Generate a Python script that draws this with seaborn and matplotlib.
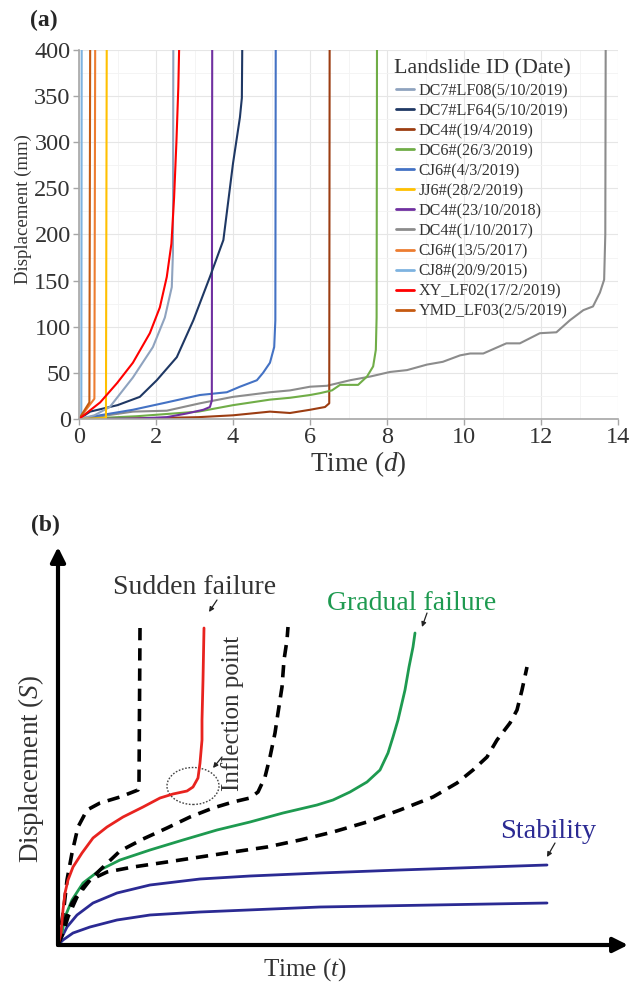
import numpy as np
import pandas as pd
import matplotlib
matplotlib.use("Agg")
import matplotlib.pyplot as plt
import seaborn as sns
from matplotlib.patches import Ellipse
from matplotlib.lines import Line2D

sns.set_theme(style="white")
plt.rcParams['font.family'] = ['Liberation Serif', 'DejaVu Serif']
plt.rcParams['mathtext.fontset'] = 'custom'
plt.rcParams['mathtext.it'] = 'Liberation Serif:italic'
plt.rcParams['mathtext.rm'] = 'Liberation Serif'

# ---------------- Panel (a) data ----------------
landslide_ids = ["DC7#LF08(5/10/2019)", "DC7#LF64(5/10/2019)", "DC4#(19/4/2019)",
                 "DC6#(26/3/2019)", "CJ6#(4/3/2019)", "JJ6#(28/2/2019)",
                 "DC4#(23/10/2018)", "DC4#(1/10/2017)", "CJ6#(13/5/2017)",
                 "CJ8#(20/9/2015)", "XY_LF02(17/2/2019)", "YMD_LF03(2/5/2019)"]
line_colors = ["#8FA3BF", "#1F3864", "#9C3D12", "#70AD47", "#4472C4", "#FFC000",
               "#7030A0", "#8C8C8C", "#ED7D31", "#7EB3E0", "#FF0000", "#C55A11"]

dc7lf08_t = [0, 0.4, 0.8, 1.4, 1.92, 2.23, 2.41, 2.44, 2.45]
dc7lf08_s = [0, 4, 13, 45, 78, 110, 143, 180, 400]
dc7lf64_t = [0, 0.29, 1.0, 1.58, 2.02, 2.54, 2.97, 3.4, 3.75, 4.0, 4.18, 4.23, 4.24]
dc7lf64_s = [0, 8, 15, 24, 42, 67, 107, 154, 194, 277, 327, 348, 400]
dc4_2019_t = [0, 2.0, 3.1, 4.0, 4.96, 5.48, 6.0, 6.39, 6.5, 6.51]
dc4_2019_s = [0, 1, 2, 4, 8, 6.5, 10, 13, 17, 400]
dc6_t = [0, 1.5, 3.1, 4.0, 4.96, 5.48, 6.0, 6.26, 6.57, 6.78, 7.25, 7.48, 7.64, 7.71, 7.73, 7.74]
dc6_s = [0, 3, 8, 15, 21, 23, 26, 28, 31, 37, 37, 46, 57, 75, 110, 400]
cj6_2019_t = [0, 0.4, 1.4, 2.28, 3.14, 3.84, 4.18, 4.62, 4.78, 4.96, 5.07, 5.1, 5.11]
cj6_2019_s = [0, 3, 10, 18, 26, 29, 35, 42, 50, 61, 78, 107, 400]
jj6_t = [0, 0.7, 0.72]
jj6_s = [0, 1, 400]
dc4_2018_t = [0, 1.5, 2.28, 2.8, 3.23, 3.4, 3.45, 3.46]
dc4_2018_s = [0, 0.5, 2, 6, 10, 13, 20, 400]
dc4_2017_t = [0, 0.4, 1.4, 2.28, 3.14, 4.0, 4.96, 5.48, 6.0, 6.44, 7.04, 7.56, 8.08, 8.52,
              9.04, 9.45, 9.9, 10.16, 10.5, 11.1, 11.45, 11.97, 12.4, 12.75, 13.1, 13.35,
              13.53, 13.64, 13.67, 13.68]
dc4_2017_s = [0, 2, 8, 9, 17, 24, 29, 31, 35, 36, 42, 46, 51, 53, 59, 62, 69, 71, 71, 82,
              82, 93, 94, 107, 118, 122, 137, 151, 200, 400]
cj6_2017_t = [0, 0.4, 0.42]
cj6_2017_s = [0, 22, 400]
cj8_t = [0, 0.06, 0.07]
cj8_s = [0, 1, 400]
xy_t = [0, 0.55, 0.99, 1.4, 1.84, 2.1, 2.28, 2.4, 2.47, 2.53, 2.58, 2.6]
xy_s = [0, 18, 39, 61, 93, 121, 154, 190, 240, 300, 360, 400]
ymd_t = [0, 0.27, 0.29]
ymd_s = [0, 18, 400]

series_t = [dc7lf08_t, dc7lf64_t, dc4_2019_t, dc6_t, cj6_2019_t, jj6_t, dc4_2018_t,
            dc4_2017_t, cj6_2017_t, cj8_t, xy_t, ymd_t]
series_s = [dc7lf08_s, dc7lf64_s, dc4_2019_s, dc6_s, cj6_2019_s, jj6_s, dc4_2018_s,
            dc4_2017_s, cj6_2017_s, cj8_s, xy_s, ymd_s]

x_ticks_a = [0, 2, 4, 6, 8, 10, 12, 14]
y_ticks_a = [0, 50, 100, 150, 200, 250, 300, 350, 400]

# ---------------- Panel (b) data (schematic, arbitrary units) ----------------
red_x = [0, 3, 5, 7, 10, 15, 24, 35, 49, 65, 85, 102, 115, 129, 135, 140, 142, 144, 144, 145, 146]
red_y = [0, 12, 35, 52, 65, 78, 92, 107, 118, 128, 138, 147, 151, 154, 158, 167, 182, 205, 225, 265, 317]
dash1_x = [0, 3, 6, 9, 14, 20, 29, 42, 62, 80, 81, 82]
dash1_y = [0, 18, 38, 65, 92, 118, 135, 142, 148, 155, 160, 317]
dash2_x = [0, 4, 7, 14, 25, 42, 62, 85, 109, 132, 155, 175, 192, 200, 207, 212, 217, 220, 224, 226, 229, 230]
dash2_y = [0, 12, 25, 42, 58, 75, 94, 106, 117, 128, 137, 143, 147, 153, 168, 188, 212, 232, 258, 285, 305, 318]
green_x = [0, 4, 7, 14, 25, 42, 62, 92, 125, 159, 192, 225, 259, 275, 292, 309, 322, 330, 335, 340, 347, 351, 355, 357]
green_y = [0, 12, 28, 45, 62, 75, 85, 95, 105, 115, 123, 132, 140, 145, 153, 163, 175, 192, 208, 225, 255, 278, 298, 312]
dash3_x = [0, 5, 10, 19, 32, 49, 75, 109, 142, 175, 209, 242, 275, 309, 342, 375, 399, 415, 429, 439, 452, 459, 464, 469]
dash3_y = [0, 12, 28, 48, 65, 73, 78, 83, 88, 93, 98, 105, 113, 123, 135, 148, 162, 175, 188, 205, 222, 235, 255, 278]
blue1_x = [0, 4, 9, 19, 35, 59, 92, 142, 192, 262, 342, 489]
blue1_y = [0, 8, 18, 30, 42, 52, 60, 66, 69, 72, 75, 80]
blue2_x = [0, 5, 15, 32, 59, 92, 142, 262, 489]
blue2_y = [0, 5, 12, 18, 25, 30, 33, 38, 42]

fig = plt.figure(figsize=(6.3, 9.85), dpi=100)

# ---------------- Panel (a) ----------------
ax = fig.add_axes([79/630, 1-419/985, (618-79)/630, (419-50)/985])
df = pd.concat([pd.DataFrame({"t": t, "s": s, "id": i})
                for t, s, i in zip(series_t, series_s, landslide_ids)], ignore_index=True)
pal = dict(zip(landslide_ids, line_colors))
draw_order = [landslide_ids[k] for k in [7, 2, 3, 4, 6, 1, 0, 5, 9, 8, 11, 10]]
for lid in draw_order:
    sub = df[df["id"] == lid]
    sns.lineplot(data=sub, x="t", y="s", color=pal[lid], sort=False, estimator=None,
                 lw=1.5, ax=ax, legend=False)
ax.set_xlim(0, 14)
ax.set_ylim(0, 400)
ax.set_xticks(x_ticks_a)
ax.set_yticks(y_ticks_a)
ax.set_xticks(np.arange(0, 14.01, 1), minor=True)
ax.set_yticks(np.arange(0, 401, 25), minor=True)
ax.grid(True, which='major', color='#e6e6e6', lw=0.8)
ax.grid(True, which='minor', color='#f3f3f3', lw=0.6)
for sp in ['top', 'right']:
    ax.spines[sp].set_visible(False)
for sp in ['left', 'bottom']:
    ax.spines[sp].set_color('#a6a6a6')
    ax.spines[sp].set_linewidth(1.2)
ax.tick_params(axis='both', which='major', labelsize=17.5, colors='#a6a6a6',
               labelcolor='#333333', length=4, width=1, pad=2, bottom=True, left=True)
ax.tick_params(which='minor', length=0)
ax.set_xlabel("Time ($\\it{d}$)", fontsize=19.5, color='#333333')
ax.set_ylabel("Displacement (mm)", fontsize=13.5, color='#333333')
ax.xaxis.set_label_coords((358-79)/539, -(449-419)/369)
ax.yaxis.set_label_coords(-(79-32)/539, (419-209)/369)

handles = [Line2D([], [], color=c, lw=2) for c in line_colors]
leg = ax.legend(handles, landslide_ids, title="Landslide ID (Date)", loc='upper left',
                bbox_to_anchor=(0.566, 1.0), frameon=False, fontsize=11.6,
                title_fontsize=15.8, handlelength=1.1, handletextpad=0.3,
                labelspacing=0.25, borderaxespad=0.2)
for t in leg.get_texts():
    t.set_color('#333333')
leg.get_title().set_color('#333333')

fig.text(44/630, 1-20/985, "(a)", fontsize=17, fontweight='bold', ha='center', va='center')

# ---------------- Panel (b) ----------------
bx = fig.add_axes([58/630, 40/985, 570/630, 398/985])
bx.set_xlim(0, 570)
bx.set_ylim(0, 398)
bx.axis('off')

def curve(x, y, color, ls='-', lw=2.0):
    d = pd.DataFrame({"x": x, "y": y})
    sns.lineplot(data=d, x="x", y="y", color=color, sort=False, estimator=None,
                 lw=lw, ls=ls, ax=bx, legend=False)
    bx.lines[-1].set_clip_on(False)
    bx.lines[-1].set_solid_joinstyle('round')

navy = "#2B2A93"
green = "#1E9A50"
curve(blue2_x, blue2_y, navy)
curve(blue1_x, blue1_y, navy)
curve(dash3_x, dash3_y, 'black', ls=(0, (3.4, 2.2)), lw=2.6)
curve(green_x, green_y, green)
curve(dash2_x, dash2_y, 'black', ls=(0, (3.4, 2.2)), lw=2.6)
curve(dash1_x, dash1_y, 'black', ls=(0, (3.4, 2.2)), lw=2.6)
curve(red_x, red_y, '#E8231F')

bx.set_xlabel("")
bx.set_ylabel("")

# axis arrows
bx.annotate('', xy=(0, 398), xytext=(0, 0),
            arrowprops=dict(arrowstyle='-|>', lw=3, color='black', mutation_scale=22,
                            shrinkA=0, shrinkB=0), annotation_clip=False)
bx.annotate('', xy=(570, 0), xytext=(0, 0),
            arrowprops=dict(arrowstyle='-|>', lw=3, color='black', mutation_scale=22,
                            shrinkA=0, shrinkB=0), annotation_clip=False)

bx.add_patch(Ellipse((135, 159), 52, 37, fill=False, ls=(0, (1.2, 1.2)), lw=1.0,
                     color='#444444'))

small_arrow = dict(arrowstyle='-|>', lw=0.9, color='#222222', mutation_scale=7,
                   shrinkA=0, shrinkB=0)
bx.text(137, 357, "Sudden failure", fontsize=20, color='#333333', ha='center', va='center')
bx.annotate('', xy=(151, 333), xytext=(159, 345), arrowprops=small_arrow)
bx.text(175, 232, "Inflection point", fontsize=18, color='#333333', ha='center',
        va='center', rotation=90)
bx.annotate('', xy=(155, 177), xytext=(164, 188), arrowprops=small_arrow)
bx.text(354, 342, "Gradual failure", fontsize=20, color=green, ha='center', va='center')
bx.annotate('', xy=(364, 318), xytext=(369, 332), arrowprops=small_arrow)
bx.text(490, 113, "Stability", fontsize=20.5, color=navy, ha='center', va='center')
bx.annotate('', xy=(489, 88), xytext=(497, 102), arrowprops=small_arrow)

bx.text(-27, 176, "Displacement ($\\it{S}$)", fontsize=19.5, color='#333333',
        ha='center', va='center', rotation=90, clip_on=False)
bx.text(247, -25, "Time ($\\it{t}$)", fontsize=18, color='#333333',
        ha='center', va='center', clip_on=False)

fig.text(45/630, 1-525/985, "(b)", fontsize=17, fontweight='bold', ha='center', va='center')

fig.savefig("out.png", dpi=100)
